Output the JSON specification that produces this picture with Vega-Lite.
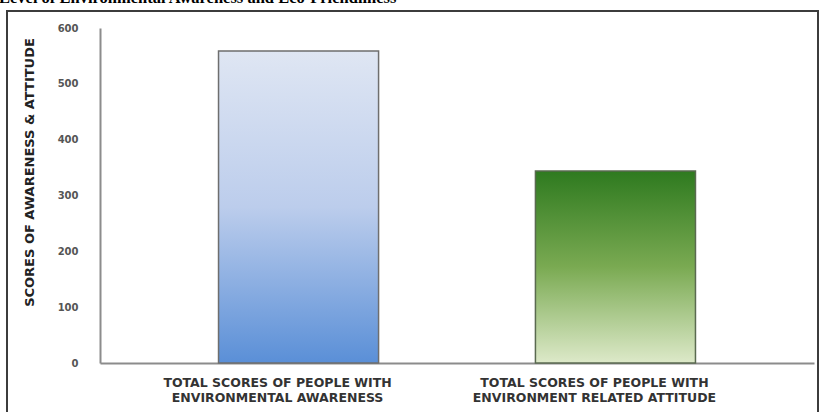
{
  "$schema": "https://vega.github.io/schema/vega-lite/v6.json",
  "autosize": {"type": "none"},
  "padding": {"left": 7, "top": 11, "right": 6, "bottom": 0},
  "width": 811,
  "height": 410,
  "background": "white",
  "title": {
    "text": "Level of Environmental Awareness and Eco-Friendliness",
    "anchor": "start",
    "font": "Liberation Serif",
    "fontSize": 16.5,
    "fontWeight": "bold",
    "color": "#000000",
    "baseline": "alphabetic",
    "offset": -8,
    "dx": -8
  },
  "config": {
    "view": {"stroke": "#3c3c3c", "strokeWidth": 2}
  },
  "data": {
    "values": [
      {"category": "TOTAL SCORES OF PEOPLE WITH ENVIRONMENTAL AWARENESS", "score": 559},
      {"category": "TOTAL SCORES OF PEOPLE WITH ENVIRONMENT RELATED ATTITUDE", "score": 344}
    ]
  },
  "encoding": {
    "x": {
      "field": "category",
      "type": "nominal",
      "sort": null,
      "scale": {
        "domain": ["TOTAL SCORES OF PEOPLE WITH ENVIRONMENTAL AWARENESS", "TOTAL SCORES OF PEOPLE WITH ENVIRONMENT RELATED ATTITUDE"],
        "range": [93, 807],
        "paddingInner": 0.495,
        "paddingOuter": 0.374,
        "align": 0.5
      },
      "axis": {
        "title": null,
        "orient": "bottom",
        "offset": -58,
        "labelAngle": 0,
        "labelExpr": "[slice(datum.label, 0, 27), slice(datum.label, 28)]",
        "labelFont": "DejaVu Sans",
        "labelFontWeight": "bold",
        "labelFontSize": 12.5,
        "labelColor": "#333333",
        "labelLineHeight": 15,
        "labelPadding": 13,
        "labelOffset": -21,
        "labelLimit": 320,
        "ticks": false,
        "domainColor": "#8c8c8c",
        "domainWidth": 2,
        "grid": false
      }
    },
    "y": {
      "field": "score",
      "type": "quantitative",
      "scale": {"domain": [0, 600], "range": [352, 17], "nice": false},
      "axis": {
        "title": "SCORES  OF AWARENESS & ATTITUDE",
        "offset": -93,
        "values": [0, 100, 200, 300, 400, 500, 600],
        "labelFont": "DejaVu Sans",
        "labelFontWeight": "bold",
        "labelFontSize": 10,
        "labelColor": "#555555",
        "labelPadding": 22,
        "ticks": false,
        "grid": false,
        "domainColor": "#8c8c8c",
        "domainWidth": 2,
        "titleFont": "DejaVu Sans",
        "titleFontWeight": "bold",
        "titleFontSize": 13,
        "titleColor": "#222222",
        "titleX": -71,
        "titleY": 161,
        "titleAlign": "center",
        "titleBaseline": "middle",
        "titleAngle": -90
      }
    }
  },
  "layer": [
    {
      "transform": [{"filter": "datum.category == 'TOTAL SCORES OF PEOPLE WITH ENVIRONMENTAL AWARENESS'"}],
      "mark": {
        "type": "bar",
        "stroke": "#6e6e6e",
        "strokeWidth": 1.5,
        "fill": {
          "gradient": "linear",
          "x1": 0, "y1": 0, "x2": 0, "y2": 1,
          "stops": [
            {"offset": 0, "color": "#dfe6f3"},
            {"offset": 0.5, "color": "#bccdec"},
            {"offset": 1, "color": "#5a8fd7"}
          ]
        }
      }
    },
    {
      "transform": [{"filter": "datum.category == 'TOTAL SCORES OF PEOPLE WITH ENVIRONMENT RELATED ATTITUDE'"}],
      "mark": {
        "type": "bar",
        "stroke": "#5a6a50",
        "strokeWidth": 1.5,
        "fill": {
          "gradient": "linear",
          "x1": 0, "y1": 0, "x2": 0, "y2": 1,
          "stops": [
            {"offset": 0, "color": "#2e7a1f"},
            {"offset": 0.5, "color": "#7aaa52"},
            {"offset": 1, "color": "#dde9c9"}
          ]
        }
      }
    }
  ]
}
